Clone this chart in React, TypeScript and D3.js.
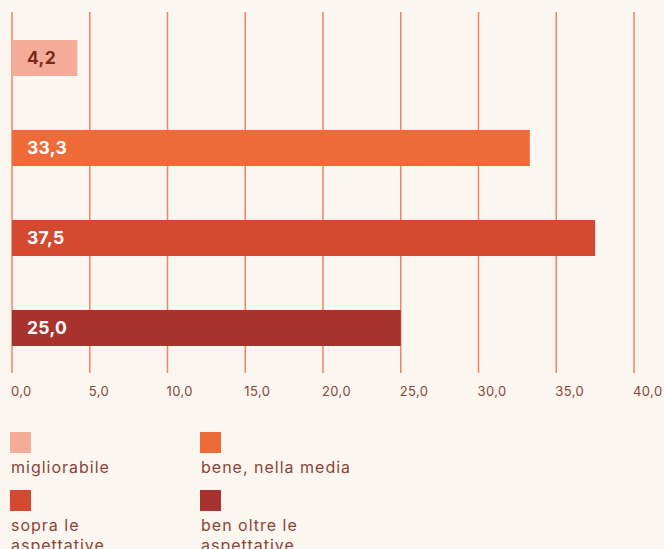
import React from "react";
import { scaleLinear, scaleBand, range } from "d3";

const categories = ["migliorabile", "bene, nella media", "sopra le aspettative", "ben oltre le aspettative"];
const values = [4.2, 33.3, 37.5, 25.0];
const colors = ["#f4ab98", "#ef6a39", "#d34a30", "#a8322e"];
const labelColors = ["#7a2a1a", "#ffffff", "#ffffff", "#ffffff"];
const ticks = range(0, 45, 5);

const legendLines = [["migliorabile"], ["bene, nella media"], ["sopra le", "aspettative"], ["ben oltre le", "aspettative"]];

const W = 664;
const H = 549;
const font = "Inter, 'Open Sans', sans-serif";
const fmt = (v: number) => v.toFixed(1).replace(".", ",");

export default function App() {
    const x = scaleLinear().domain([0, 40]).range([12, 634]);
    const y = scaleBand<string>().domain(categories).range([13, 373]).paddingInner(0.6).paddingOuter(0.3);

    return (
        <svg
            width={W}
            height={H}
            style={{ position: "absolute", left: 0, top: 0, background: "#fbf6f0" }}
            fontFamily={font}
        >
            <rect width={W} height={H} fill="#fbf6f0" />

            {/* Grid lines */}
            {ticks.map((t) => (
                <line key={t} x1={x(t)} x2={x(t)} y1={12} y2={373} stroke="#f08462" strokeWidth={1.5} />
            ))}

            {/* Bars */}
            {categories.map((c, i) => (
                <g key={c}>
                    <rect x={x(0)} y={y(c)} width={x(values[i]) - x(0)} height={y.bandwidth()} fill={colors[i]} />
                    <text
                        x={27}
                        y={(y(c) ?? 0) + y.bandwidth() / 2}
                        dy="0.36em"
                        fontSize={17.5}
                        fontWeight={700}
                        letterSpacing={0.3}
                        fill={labelColors[i]}
                    >
                        {fmt(values[i])}
                    </text>
                </g>
            ))}

            {/* X axis labels */}
            {ticks.map((t) => (
                <text key={t} x={x(t) - 1} y={396} fontSize={13} letterSpacing={0.4} fill="#8a4536">
                    {fmt(t)}
                </text>
            ))}

            {/* Legend */}
            {categories.map((c, i) => {
                const lx = i % 2 === 0 ? 10 : 200;
                const ly = i < 2 ? 432 : 490;
                return (
                    <g key={c} transform={`translate(${lx},${ly})`}>
                        <rect width={21} height={21} fill={colors[i]} />
                        {legendLines[i].map((l, j) => (
                            <text key={j} x={1} y={41 + j * 20} fontSize={16} letterSpacing={1} fill="#8a4536">
                                {l}
                            </text>
                        ))}
                    </g>
                );
            })}
        </svg>
    );
}
